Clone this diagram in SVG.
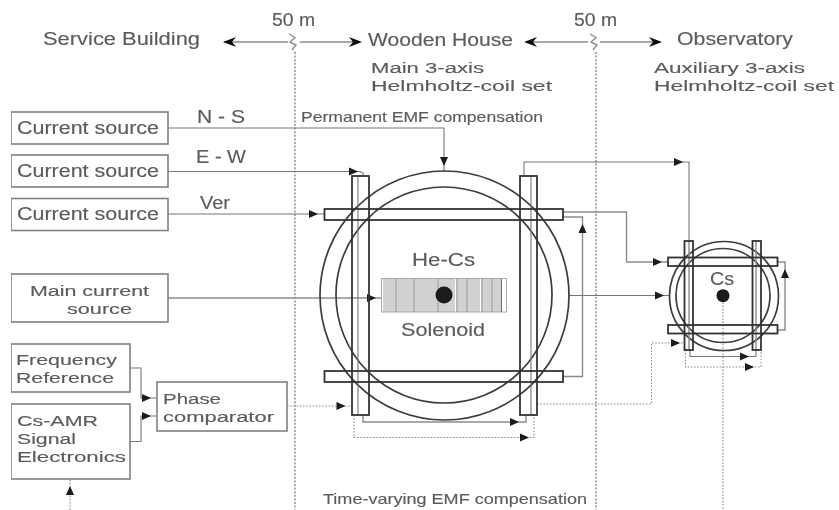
<svg xmlns="http://www.w3.org/2000/svg" width="839" height="510" viewBox="0 0 839 510">
<defs>
<style>
text{font-family:"Liberation Sans",Arial,sans-serif;fill:#5c5c5c;stroke:#5c5c5c;stroke-width:.15}
.l{font-size:17.500px}.t{font-size:15.500px}.s{font-size:14.500px}
.box{fill:#fff;stroke:#808080;stroke-width:1.6}
.coil{fill:none;stroke:#333;stroke-width:1.8}
.big{fill:none;stroke:#3c3c3c;stroke-width:1.7}
.w{fill:none;stroke:#777;stroke-width:1.1}
.w2{fill:none;stroke:#8c8c8c;stroke-width:1.4}
.d{fill:none;stroke:#8c8c8c;stroke-width:1.1;stroke-dasharray:1.6 1.6}
.dk{fill:none;stroke:#666;stroke-width:1.1;stroke-dasharray:2 1.6}
.h{fill:none;stroke:#a4a4a4;stroke-width:1}
.hd{fill:none;stroke:#6e6e6e;stroke-width:1}
</style>
<polygon id="a" points="0,0 -9,-4 -9,4" fill="#1a1a1a"/>
<polygon id="b" points="0,0 -13,-5 -9,0 -13,5" fill="#111"/>
<filter id="soft" x="0" y="0" width="100%" height="100%"><feGaussianBlur stdDeviation="0.5"/></filter>
</defs>
<rect width="839" height="510" fill="#fff"/>
<g filter="url(#soft)">
<g id="connectors">
<path class="dk" d="M295 52V510M596 52V510"/>
<path class="w2" d="M224 42H288M300 42H360M526 42H588M600 42H660"/>
<path class="w2" d="M289 34L295 37.500L290 42L296 45L292 50M590 34L596 37.500L591 42L597 45L593 50" stroke-width="1.800"/>
<use href="#b" transform="translate(223,42) rotate(180)"/>
<use href="#b" transform="translate(362,42)"/>
<use href="#b" transform="translate(524,42) rotate(180)"/>
<use href="#b" transform="translate(662,42)"/>
<path class="w" d="M168 128H444V171"/>
<use href="#a" transform="translate(444,166) rotate(90)"/>
<path class="w" d="M168 171.500H360L363 173V176"/>
<use href="#a" transform="translate(358,171.500)"/>
<path class="w" d="M168 214H324"/>
<use href="#a" transform="translate(318,214)"/>
<path class="w2" d="M168 298H381"/>
<use href="#a" transform="translate(376,298)"/>
<path class="w" d="M130 368H141V398H157M130 441.500H141V416H157"/>
<use href="#a" transform="translate(151,398)"/>
<use href="#a" transform="translate(151,416)"/>
<path class="d" d="M287 406H352"/>
<use href="#a" transform="translate(345.500,406)"/>
<path class="d" d="M70 510V479"/>
<use href="#a" transform="translate(70,486) rotate(-90)"/>
<path class="w2" d="M363 415V422H526V415"/>
<use href="#a" transform="translate(519,422)"/>
<path class="d" d="M354 415V437.500H534V415"/>
<use href="#a" transform="translate(529,437.500)"/>
<path class="w" d="M524 176V162H689V241"/>
<use href="#a" transform="translate(683,162)"/>
<path class="w2" d="M563 212H626.500V262H668"/>
<use href="#a" transform="translate(662,262)"/>
<path class="w2" d="M563 217H582.500V376.500H563"/>
<use href="#a" transform="translate(582.500,224) rotate(-90)"/>
<path class="w" d="M569 295.500H669"/>
<use href="#a" transform="translate(664,295.500)"/>
<path class="d" d="M537 404H651.500V343H684"/>
<use href="#a" transform="translate(680,343)"/>
<path class="w2" d="M778 262H785V330H778"/>
<use href="#a" transform="translate(785,269) rotate(-90)"/>
<path class="w" d="M690 350V356.500H756V350"/>
<use href="#a" transform="translate(749,356.500)"/>
<path class="d" d="M685.500 350V367H761V350"/>
<use href="#a" transform="translate(754,367)"/>
<path class="d" d="M723 296V510"/>
</g>
<g id="source-ns"><rect class="box" x="11" y="112" width="157" height="32"/><text class="l" x="17" y="134" textLength="142" lengthAdjust="spacingAndGlyphs">Current source</text></g>
<g id="source-ew"><rect class="box" x="11" y="155" width="157" height="32"/><text class="l" x="17" y="177" textLength="142" lengthAdjust="spacingAndGlyphs">Current source</text></g>
<g id="source-ver"><rect class="box" x="11" y="198.500" width="157" height="32"/><text class="l" x="17" y="220" textLength="142" lengthAdjust="spacingAndGlyphs">Current source</text></g>
<g id="main-source"><rect class="box" x="11" y="274" width="157" height="48"/><text class="t" x="30" y="296" textLength="119" lengthAdjust="spacingAndGlyphs">Main current</text><text class="t" x="67" y="314" textLength="65" lengthAdjust="spacingAndGlyphs">source</text></g>
<g id="frequency-reference"><rect class="box" x="11" y="344" width="119" height="48"/><text class="t" x="16" y="365" textLength="101" lengthAdjust="spacingAndGlyphs">Frequency</text><text class="t" x="16" y="383" textLength="98" lengthAdjust="spacingAndGlyphs">Reference</text></g>
<g id="cs-amr"><rect class="box" x="11" y="404" width="119" height="75"/><text class="t" x="17" y="426" textLength="81" lengthAdjust="spacingAndGlyphs">Cs-AMR</text><text class="t" x="17" y="444" textLength="59" lengthAdjust="spacingAndGlyphs">Signal</text><text class="t" x="17" y="462" textLength="109" lengthAdjust="spacingAndGlyphs">Electronics</text></g>
<g id="phase-comparator"><rect class="box" x="157" y="382" width="130" height="49"/><text class="t" x="163" y="404" textLength="58" lengthAdjust="spacingAndGlyphs">Phase</text><text class="t" x="163" y="422" textLength="111" lengthAdjust="spacingAndGlyphs">comparator</text></g>
<g id="main-coils">
<circle class="big" cx="444.500" cy="295.500" r="124.500"/>
<circle class="big" cx="444" cy="295" r="108"/>
<path class="w" d="M358 176V415M531 176V415"/>
<rect class="coil" x="352" y="176" width="17" height="239"/>
<rect class="coil" x="520" y="176" width="17" height="239"/>
<rect class="coil" x="324.500" y="209" width="238.500" height="11"/>
<rect class="coil" x="324.500" y="371" width="238.500" height="11"/>
</g>
<g id="solenoid">
<rect x="381.500" y="278.500" width="125" height="33.500" fill="#fff" stroke="#aaa" stroke-width="1"/>
<path class="h" d="M384 279V312M386 279V312M388 279V312M390 279V312M392 279V312M394 279V312M398 279V312M400 279V312M402 279V312M404 279V312M406 279V312M408 279V312M410 279V312M412 279V312M416 279V312M418 279V312M420 279V312M422 279V312M424 279V312M426 279V312M428 279V312M430 279V312M432 279V312M434 279V312M436 279V312M440 279V312M442 279V312M444 279V312M446 279V312M448 279V312M450 279V312M452 279V312M454 279V312M459 279V312M461 279V312M463 279V312M465 279V312M469 279V312M471 279V312M473 279V312M475 279V312M477 279V312M479 279V312M484 279V312M486 279V312M488 279V312M490 279V312M494 279V312M496 279V312M498 279V312M500 279V312"/>
<path class="hd" d="M396 279V312M414 279V312M438 279V312M457 279V312M467 279V312M482 279V312M492 279V312M501.500 279V312"/>
<circle cx="444" cy="295" r="8.500" fill="#1a1a1a"/>
<text class="l" x="412" y="266" textLength="63" lengthAdjust="spacingAndGlyphs">He-Cs</text>
<text class="l" x="401" y="336" textLength="84" lengthAdjust="spacingAndGlyphs">Solenoid</text>
</g>
<g id="auxiliary-coils">
<circle class="big" cx="724" cy="296" r="54.500"/>
<circle class="big" cx="723" cy="295.500" r="47"/>
<path class="w2" d="M689 241V350M756 241V350"/>
<rect class="coil" x="684.500" y="241" width="8.500" height="109"/>
<rect class="coil" x="752.500" y="241" width="8.500" height="109"/>
<rect class="coil" x="668" y="257.500" width="109.500" height="8.500"/>
<rect class="coil" x="668" y="325" width="109.500" height="8.500"/>
<circle cx="723" cy="295.700" r="6.500" fill="#1a1a1a"/>
<text class="l" x="710" y="285" textLength="24" lengthAdjust="spacingAndGlyphs">Cs</text>
</g>
<g id="labels">
<text class="l" x="272" y="26" textLength="43" lengthAdjust="spacingAndGlyphs">50 m</text>
<text class="l" x="574" y="26" textLength="43" lengthAdjust="spacingAndGlyphs">50 m</text>
<text class="l" x="43" y="45" textLength="157" lengthAdjust="spacingAndGlyphs">Service Building</text>
<text class="l" x="368" y="46" textLength="145" lengthAdjust="spacingAndGlyphs">Wooden House</text>
<text class="l" x="677" y="45" textLength="116" lengthAdjust="spacingAndGlyphs">Observatory</text>
<text class="t" x="371" y="73" textLength="113" lengthAdjust="spacingAndGlyphs">Main 3-axis</text>
<text class="t" x="371" y="91" textLength="181" lengthAdjust="spacingAndGlyphs">Helmholtz-coil set</text>
<text class="t" x="654" y="73" textLength="151" lengthAdjust="spacingAndGlyphs">Auxiliary 3-axis</text>
<text class="t" x="654" y="91" textLength="180" lengthAdjust="spacingAndGlyphs">Helmholtz-coil set</text>
<text class="l" x="197" y="123" textLength="48" lengthAdjust="spacingAndGlyphs">N - S</text>
<text class="l" x="196" y="163" textLength="50" lengthAdjust="spacingAndGlyphs">E - W</text>
<text class="l" x="200" y="209" textLength="30" lengthAdjust="spacingAndGlyphs">Ver</text>
<text class="s" x="301" y="122" textLength="242" lengthAdjust="spacingAndGlyphs">Permanent EMF compensation</text>
<text class="s" x="323" y="504" textLength="264" lengthAdjust="spacingAndGlyphs">Time-varying EMF compensation</text>
</g>
</g>
</svg>
